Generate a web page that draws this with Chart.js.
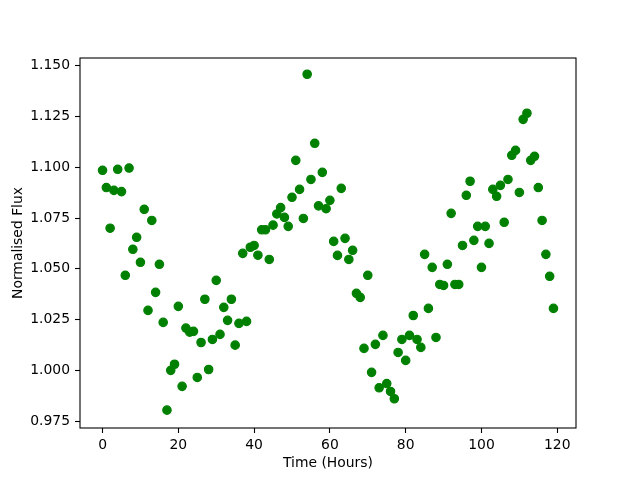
<!DOCTYPE html>
<html>
<head>
<meta charset="utf-8">
<script src="https://cdn.jsdelivr.net/npm/chart.js@4"></script>
<style>
  body { margin: 0; background: #fff; }
</style>
</head>
<body>
<canvas id="c" width="640" height="480"></canvas>
<script>
// hours since start
const hours = [
  0, 1, 2, 3, 4, 5, 6, 7, 8, 9, 10, 11, 12, 13, 14, 15, 16, 17, 18, 19,
  20, 21, 22, 23, 24, 25, 26, 27, 28, 29, 30, 31, 32, 33, 34, 35, 36, 37, 38, 39,
  40, 41, 42, 43, 44, 45, 46, 47, 48, 49, 50, 51, 52, 53, 54, 55, 56, 57, 58, 59,
  60, 61, 62, 63, 64, 65, 66, 67, 68, 69, 70, 71, 72, 73, 74, 75, 76, 77, 78, 79,
  80, 81, 82, 83, 84, 85, 86, 87, 88, 89, 90, 91, 92, 93, 94, 95, 96, 97, 98, 99,
  100, 101, 102, 103, 104, 105, 106, 107, 108, 109, 110, 111, 112, 113, 114, 115, 116, 117, 118, 119
]

// normalised flux
const flux = [
  1.0985, 1.0900, 1.0700, 1.0886, 1.0990, 1.0880, 1.0468, 1.0996, 1.0596, 1.0655,
  1.0532, 1.0793, 1.0295, 1.0738, 1.0384, 1.0522, 1.0236, 0.9804, 1.0000, 1.0030,
  1.0315, 0.9921, 1.0208, 1.0188, 1.0192, 0.9965, 1.0137, 1.0350, 1.0004, 1.0152,
  1.0443, 1.0177, 1.0310, 1.0246, 1.0350, 1.0124, 1.0231, 1.0576, 1.0241, 1.0606,
  1.0615, 1.0567, 1.0692, 1.0692, 1.0546, 1.0715, 1.0770, 1.0801, 1.0753, 1.0709,
  1.0852, 1.1034, 1.0891, 1.0748, 1.1458, 1.0940, 1.1118, 1.0810, 1.0975, 1.0796,
  1.0837, 1.0635, 1.0566, 1.0896, 1.0650, 1.0546, 1.0591, 1.0379, 1.0359, 1.0108,
  1.0468, 0.9990, 1.0128, 0.9914, 1.0172, 0.9935, 0.9896, 0.9860, 1.0088, 1.0152,
  1.0049, 1.0172, 1.0270, 1.0152, 1.0113, 1.0571, 1.0305, 1.0507, 1.0162, 1.0423,
  1.0418, 1.0522, 1.0773, 1.0423, 1.0423, 1.0615, 1.0862, 1.0931, 1.0640, 1.0709,
  1.0507, 1.0709, 1.0625, 1.0891, 1.0857, 1.0911, 1.0729, 1.0940, 1.1059, 1.1083,
  1.0876, 1.1236, 1.1266, 1.1034, 1.1054, 1.0900, 1.0738, 1.0571, 1.0463, 1.0305
]

const xTicks = [0, 20, 40, 60, 80, 100, 120]
const yTicks = [0.975, 1.000, 1.025, 1.050, 1.075, 1.100, 1.125, 1.150]

const FONT = { family: 'DejaVu Sans', size: 13.9 }

// matplotlib-style box round the axes
const frame = {
  id: 'frame',
  afterDatasetsDraw(chart) {
    const a = chart.chartArea
    const ctx = chart.ctx
    ctx.save()
    ctx.strokeStyle = '#000'
    ctx.lineWidth = 1.1
    ctx.strokeRect(a.left, a.top, a.right - a.left, a.bottom - a.top)
    ctx.restore()
  }
}

const tickGrid = {
  display: true,
  drawOnChartArea: false,
  drawTicks: true,
  tickLength: 5,
  tickWidth: 1.1,
  tickColor: '#000'
}

new Chart(document.getElementById('c'), {
  type: 'scatter',
  data: {
    datasets: [{
      data: hours.map((h, i) => ({ x: h, y: flux[i] })),
      backgroundColor: '#008000',
      borderColor: '#008000',
      borderWidth: 1.2,
      pointRadius: 4.2
    }]
  },
  options: {
    responsive: false,
    animation: false,
    events: [],
    layout: { padding: { left: 0, top: 58, right: 64, bottom: 0 } },
    plugins: { legend: { display: false }, tooltip: { enabled: false } },
    scales: {
      x: {
        type: 'linear',
        min: -5.95,
        max: 124.95,
        afterBuildTicks: s => { s.ticks = xTicks.map(v => ({ value: v })) },
        afterFit: s => { s.height = 52 },
        grid: tickGrid,
        border: { display: false },
        ticks: { color: '#000', font: FONT, padding: 4, maxRotation: 0 },
        title: { display: true, text: 'Time (Hours)', color: '#000', font: FONT, padding: { top: 0, bottom: 8 } }
      },
      y: {
        type: 'linear',
        min: 0.9716,
        max: 1.1538,
        afterBuildTicks: s => { s.ticks = yTicks.map(v => ({ value: v })) },
        afterFit: s => { s.width = 80 },
        grid: tickGrid,
        border: { display: false },
        ticks: { color: '#000', font: FONT, padding: 5, callback: v => v.toFixed(3) },
        title: { display: true, text: 'Normalised Flux', color: '#000', font: FONT, padding: { top: 10, bottom: 0 } }
      }
    }
  },
  plugins: [frame]
})
</script>
</body>
</html>
